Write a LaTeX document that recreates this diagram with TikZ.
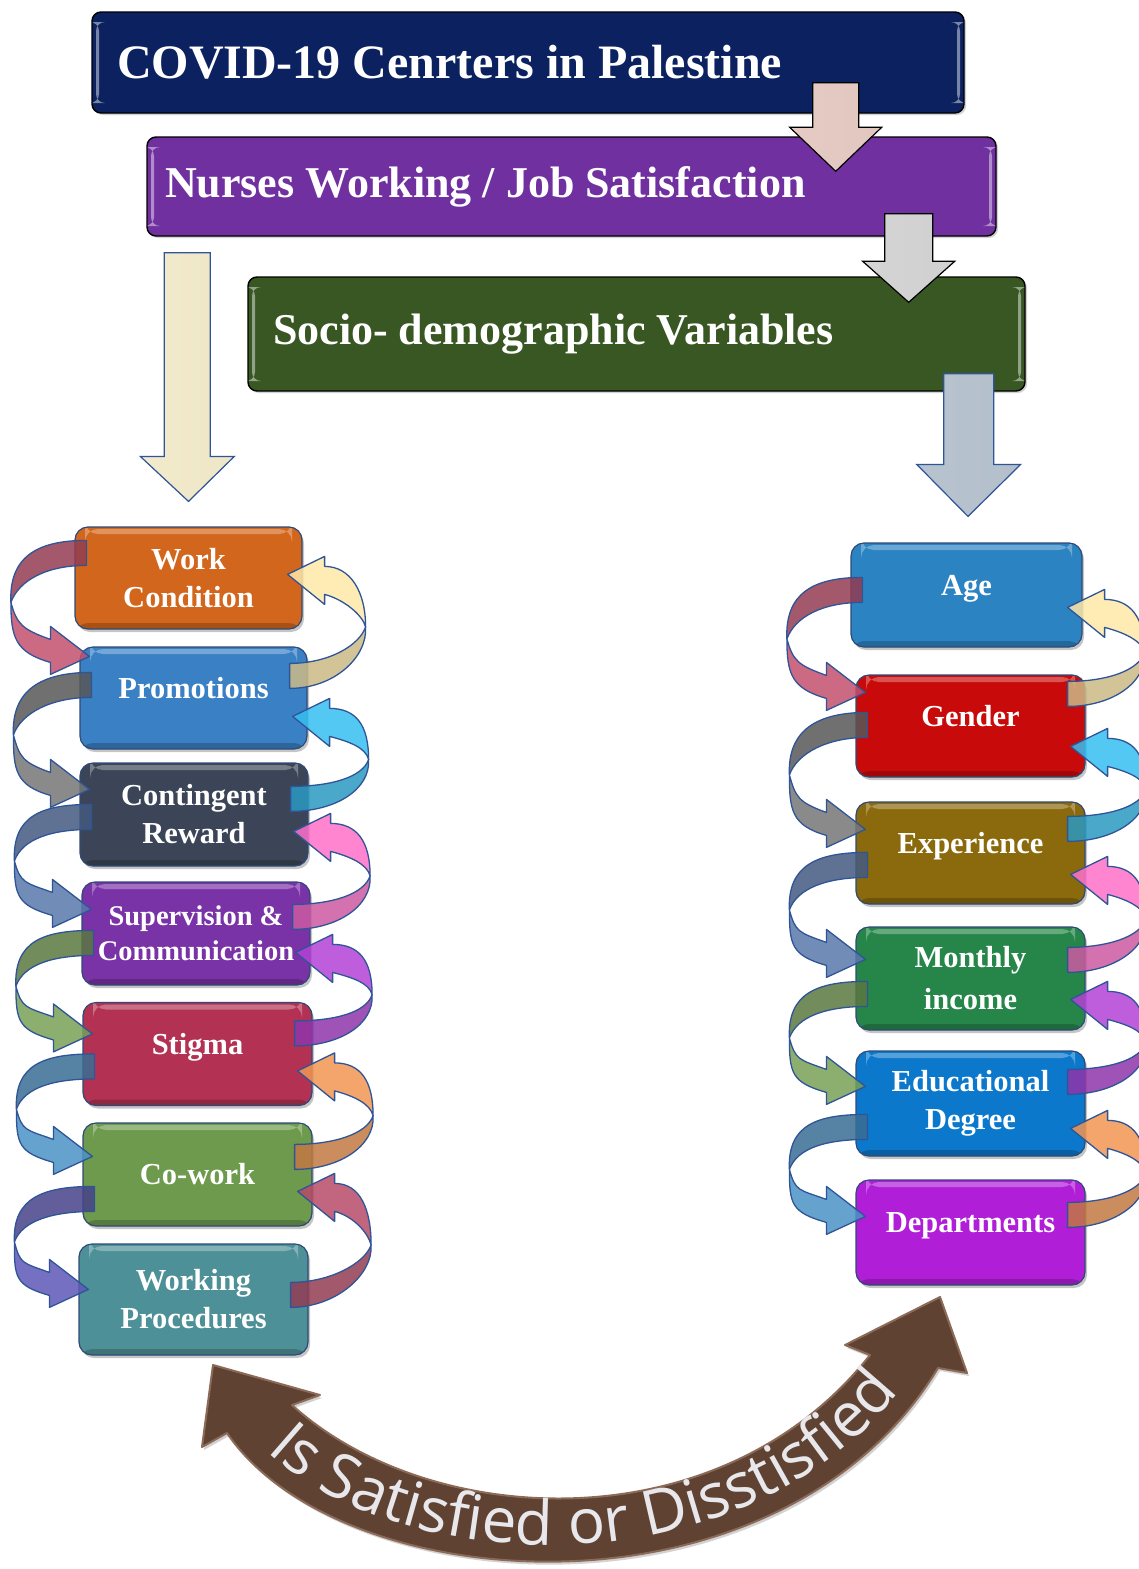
\documentclass[tikz,border=0pt]{standalone}
\usepackage{fontspec}
\setmainfont{Liberation Serif}
\newfontfamily\arcfont{Open Sans}
\usetikzlibrary{calc,shadows,decorations.text}

\definecolor{cNavy}{HTML}{0B2160}
\definecolor{cPurple}{HTML}{7030A0}
\definecolor{cGreen}{HTML}{385723}
\definecolor{cWork}{HTML}{D2661C}
\definecolor{cPromo}{HTML}{3A80C4}
\definecolor{cContin}{HTML}{3B4557}
\definecolor{cSuperv}{HTML}{7A33A7}
\definecolor{cStigma}{HTML}{B33253}
\definecolor{cCowork}{HTML}{6D9A4C}
\definecolor{cProc}{HTML}{4E9097}
\definecolor{cAge}{HTML}{2C83C2}
\definecolor{cGender}{HTML}{C90A0A}
\definecolor{cExper}{HTML}{8A6A0C}
\definecolor{cIncome}{HTML}{268549}
\definecolor{cEdu}{HTML}{0B78CC}
\definecolor{cDept}{HTML}{B01ED8}
\definecolor{lnRose}{HTML}{C4506E}
\definecolor{lnGray}{HTML}{767676}
\definecolor{lnSlate}{HTML}{5A78AC}
\definecolor{lnOlive}{HTML}{78A055}
\definecolor{lnSteel}{HTML}{4C92C6}
\definecolor{lnIndigo}{HTML}{5E58B8}
\definecolor{lnYellow}{HTML}{FFE8A8}
\definecolor{lnCyan}{HTML}{36BFF2}
\definecolor{lnPink}{HTML}{FF70CA}
\definecolor{lnViolet}{HTML}{B442D6}
\definecolor{lnOrange}{HTML}{F29652}
\definecolor{lnBerry}{HTML}{B84B68}
\definecolor{loopline}{HTML}{2F5597}
\definecolor{boxline}{HTML}{2E4A78}
\definecolor{pinkA}{HTML}{F4D8D0}
\definecolor{grayA}{HTML}{E2E2E2}
\definecolor{blueA}{HTML}{C8D4E2}
\definecolor{creamA}{HTML}{FFF7D6}
\definecolor{brownArc}{HTML}{5F4232}
\definecolor{brownEdge}{HTML}{8C6A58}
\definecolor{arcText}{HTML}{E8E8EC}

\tikzset{
  hbox/.style={draw=black, line width=1.4, rounded corners=9, text=white,
    font=\bfseries\fontsize{44}{48}\selectfont, align=justify, inner ysep=0,
    drop shadow={shadow xshift=2pt, shadow yshift=-2pt, opacity=.35},
    path picture={
      \fill[white, opacity=.45] ([xshift=4pt,yshift=-10pt]path picture bounding box.north west) rectangle ([xshift=7pt,yshift=10pt]path picture bounding box.south west);
      \fill[white, opacity=.45] ([xshift=-7pt,yshift=-10pt]path picture bounding box.north east) rectangle ([xshift=-4pt,yshift=10pt]path picture bounding box.south east);}},
  vbox/.style={draw=boxline, line width=1.2, rounded corners=13, text=white,
    font=\bfseries\fontsize{30.5}{38}\selectfont, align=center,
    minimum width=229, minimum height=103, inner sep=0,
    drop shadow={shadow xshift=2pt, shadow yshift=-3pt, opacity=.45},
    path picture={
      \fill[white, opacity=.3] ([xshift=10pt,yshift=-2pt]path picture bounding box.north west) rectangle ([xshift=-10pt,yshift=-7pt]path picture bounding box.north east);
      \fill[black, opacity=.2] ([yshift=6pt]path picture bounding box.south west) rectangle (path picture bounding box.south east);}},
  lift/.style={text height=12pt, text depth=12pt},
  loop/.style={draw=loopline, line width=1.3, fill opacity=.85, line join=round},
  dnpink/.style={draw=black, line width=1.2, left color=pinkA!94!black, middle color=pinkA!30!white, right color=pinkA!92!black},
  dngray/.style={draw=black, line width=1.2, left color=grayA!94!black, middle color=grayA!30!white, right color=grayA!92!black},
  dnblue/.style={draw=loopline, line width=1.2, left color=blueA!92!black, middle color=blueA!45!white, right color=blueA!90!black},
  dncream/.style={draw=loopline, line width=1.2, left color=creamA!95!black, middle color=creamA!35!white, right color=creamA!93!black}
}

% straight block arrow pointing down
\newcommand{\blockdown}[6]{% top, tip, half shaft, half head, head length, style
  \filldraw[#6] let \p1=(#1), \p2=(#2) in
    (\x1-#3pt,\y1) -- (\x1+#3pt,\y1) -- (\x1+#3pt,\y2+#5pt) -- (\x1+#4pt,\y2+#5pt)
    -- (\x2,\y2) -- (\x1-#4pt,\y2+#5pt) -- (\x1-#3pt,\y2+#5pt) -- cycle;}

% twisted ribbon on the left side: upper box -> lower box
\newcommand{\leftloop}[5]{% upper, lower, colour, tail drop, tip drop
  \coordinate (ta) at ($(#1.north west)+(12,#4)$);
  \coordinate (tb) at ($(ta)+(0,25)$);
  \coordinate (tp) at ($(#2.north west)+(10,#5)$);
  \coordinate (pc) at ($(ta)!.5!(tp)+(-77,4)$);
  \filldraw[loop, fill=#3!75!black] (ta) .. controls ($(ta)+(-50,0)$) and ($(pc)+(-2,-45)$) .. (pc)
    .. controls ($(pc)+(8,-22)$) and ($(tb)+(-40,0)$) .. (tb) -- cycle;
  \filldraw[loop, fill=#3] (pc) .. controls ($(pc)+(0,35)$) and ($(tp)+(-74,-4)$) .. ($(tp)+(-39,6)$)
    -- ($(tp)+(-39,18)$) -- (tp) -- ($(tp)+(-39,-30)$) -- ($(tp)+(-39,-17)$)
    .. controls ($(tp)+(-67,-27)$) and ($(pc)+(6,22)$) .. (pc) -- cycle;}

% twisted ribbon on the right side: lower box -> upper box
\newcommand{\rightloop}[5]{% upper, lower, colour, tip drop, tail drop
  \coordinate (tp) at ($(#1.north east)+(-15,#4)$);
  \coordinate (ta) at ($(#2.north east)+(-18,#5)$);
  \coordinate (tb) at ($(ta)+(0,25)$);
  \coordinate (pc) at ($(tp)!.5!(ta)+(77,8)$);
  \filldraw[loop, fill=#3!80!black] (tb) .. controls ($(tb)+(45,0)$) and ($(pc)+(2,30)$) .. (pc)
    .. controls ($(pc)+(-6,18)$) and ($(ta)+(40,0)$) .. (ta) -- cycle;
  \filldraw[loop, fill=#3] (pc) .. controls ($(pc)+(0,-35)$) and ($(tp)+(63,-8)$) .. ($(tp)+(37,-8)$)
    -- ($(tp)+(37,-18)$) -- (tp) -- ($(tp)+(37,30)$) -- ($(tp)+(37,20)$)
    .. controls ($(tp)+(56,25)$) and ($(pc)+(-3,-12)$) .. (pc) -- cycle;}

\begin{document}
\begin{tikzpicture}[x=1pt,y=-1pt]
\useasboundingbox (0,0) rectangle (1139,1569);
\fill[white] (0,0) rectangle (1139,1569);

% title bars
\node[hbox, fill=cNavy, minimum width=872, minimum height=101, inner xsep=25, text width=822,
  font=\bfseries\fontsize{48}{52}\selectfont] (covid) at (528,62.5) {COVID-19 Cenrters in Palestine};
\node[hbox, fill=cPurple, minimum width=849, minimum height=99, inner xsep=18, text width=813] (nurses) at (571.5,186.5) {Nurses Working / Job Satisfaction};
\node[hbox, fill=cGreen, minimum width=777, minimum height=114, inner xsep=25, text width=727] (socio) at (636.5,334) {Socio- demographic Variables};

% left column
\node[vbox, fill=cWork, minimum width=227, minimum height=102] (work) at (188.5,578) {Work\\Condition};
\node[vbox, lift, fill=cPromo, minimum width=227, minimum height=102] (promo) at (193.5,698) {Promotions};
\node[vbox, fill=cContin, minimum width=228] (contin) at (194,814.5) {Contingent\\Reward};
\node[vbox, fill=cSuperv, minimum width=228, font=\bfseries\fontsize{28.5}{35}\selectfont] (superv) at (196,933.5) {Supervision \&\\Communication};
\node[vbox, lift, fill=cStigma] (stigma) at (197.5,1054) {Stigma};
\node[vbox, fill=cCowork] (cowork) at (197.5,1174.5) {Co-work};
\node[vbox, fill=cProc, minimum height=111] (wproc) at (193.5,1299.5) {Working\\Procedures};

% right column
\node[vbox, lift, fill=cAge, minimum width=231, minimum height=104] (age) at (966.5,595) {Age};
\node[vbox, lift, fill=cGender, minimum height=102] (gender) at (970.5,726) {Gender};
\node[vbox, lift, fill=cExper, minimum height=102] (exper) at (970.5,853) {Experience};
\node[vbox, fill=cIncome, font=\bfseries\fontsize{30.5}{42}\selectfont] (income) at (970.5,978.5) {Monthly\\income};
\node[vbox, fill=cEdu, minimum height=105] (edu) at (970.5,1103.5) {Educational\\Degree};
\node[vbox, lift, fill=cDept, minimum height=105] (dept) at (970.5,1232.5) {Departments};

% down arrows
\coordinate (aTop) at ($(covid.south east)+(-129,-31)$);
\coordinate (aTip) at ($(nurses.north east)+(-161,35)$);
\coordinate (bTop) at ($(nurses.south east)+(-88,-23)$);
\coordinate (bTip) at ($(socio.north east)+(-117,26)$);
\coordinate (cTop) at ($(socio.south east)+(-57,-18)$);
\coordinate (cTip) at ($(age.north)+(1.5,-26)$);
\coordinate (dTop) at ($(nurses.south west)+(41,16)$);
\coordinate (dTip) at ($(work.north)+(0,-25)$);
\blockdown{aTop}{aTip}{23}{46}{44}{dnpink}
\blockdown{bTop}{bTip}{24}{46}{41}{dngray}
\blockdown{cTop}{cTip}{25}{52}{52}{dnblue}
\blockdown{dTop}{dTip}{23}{47}{45}{dncream}

% ribbons, left column
\leftloop{work}{promo}{lnRose}{14}{10}
\leftloop{promo}{contin}{lnGray}{26}{27}
\leftloop{contin}{superv}{lnSlate}{42}{28}
\leftloop{superv}{stigma}{lnOlive}{49}{32}
\leftloop{stigma}{cowork}{lnSteel}{52}{34}
\leftloop{cowork}{wproc}{lnIndigo}{64}{46}
\rightloop{work}{promo}{lnYellow}{48}{17}
\rightloop{promo}{contin}{lnCyan}{70}{24}
\rightloop{contin}{superv}{lnPink}{69}{23}
\rightloop{superv}{stigma}{lnViolet}{71}{19}
\rightloop{stigma}{cowork}{lnOrange}{69}{22}
\rightloop{cowork}{wproc}{lnBerry}{69}{39}

% ribbons, right column
\leftloop{age}{gender}{lnRose}{35}{18}
\leftloop{gender}{exper}{lnGray}{38}{28}
\leftloop{exper}{income}{lnSlate}{51}{33}
\leftloop{income}{edu}{lnOlive}{55}{36}
\leftloop{edu}{dept}{lnSteel}{64}{37}
\rightloop{age}{gender}{lnYellow}{65}{7}
\rightloop{gender}{exper}{lnCyan}{72}{15}
\rightloop{exper}{income}{lnPink}{73}{21}
\rightloop{income}{edu}{lnViolet}{73}{19}
\rightloop{edu}{dept}{lnOrange}{78}{23}

% curved arrow at the bottom
\filldraw[fill=brownArc, draw=brownEdge, line width=2, line join=round,
  drop shadow={shadow xshift=2pt, shadow yshift=-3pt, opacity=.35}]
  (213,1365) -- (202,1447) -- (227,1433)
  .. controls (340,1600) and (780,1630) .. (938,1368)
  -- (967,1373) -- (940,1297) -- (845,1345) -- (870,1355)
  .. controls (720,1545) and (430,1530) .. (292,1405)
  -- (320,1395) -- cycle;
\path[decorate, decoration={text along path, text align=center,
  text={|\arcfont\fontsize{62}{62}\selectfont\color{arcText}|Is Satisfied or Disstisfied}}]
  (244,1427) .. controls (366,1582) and (764,1606) .. (918,1365);
\end{tikzpicture}
\end{document}
